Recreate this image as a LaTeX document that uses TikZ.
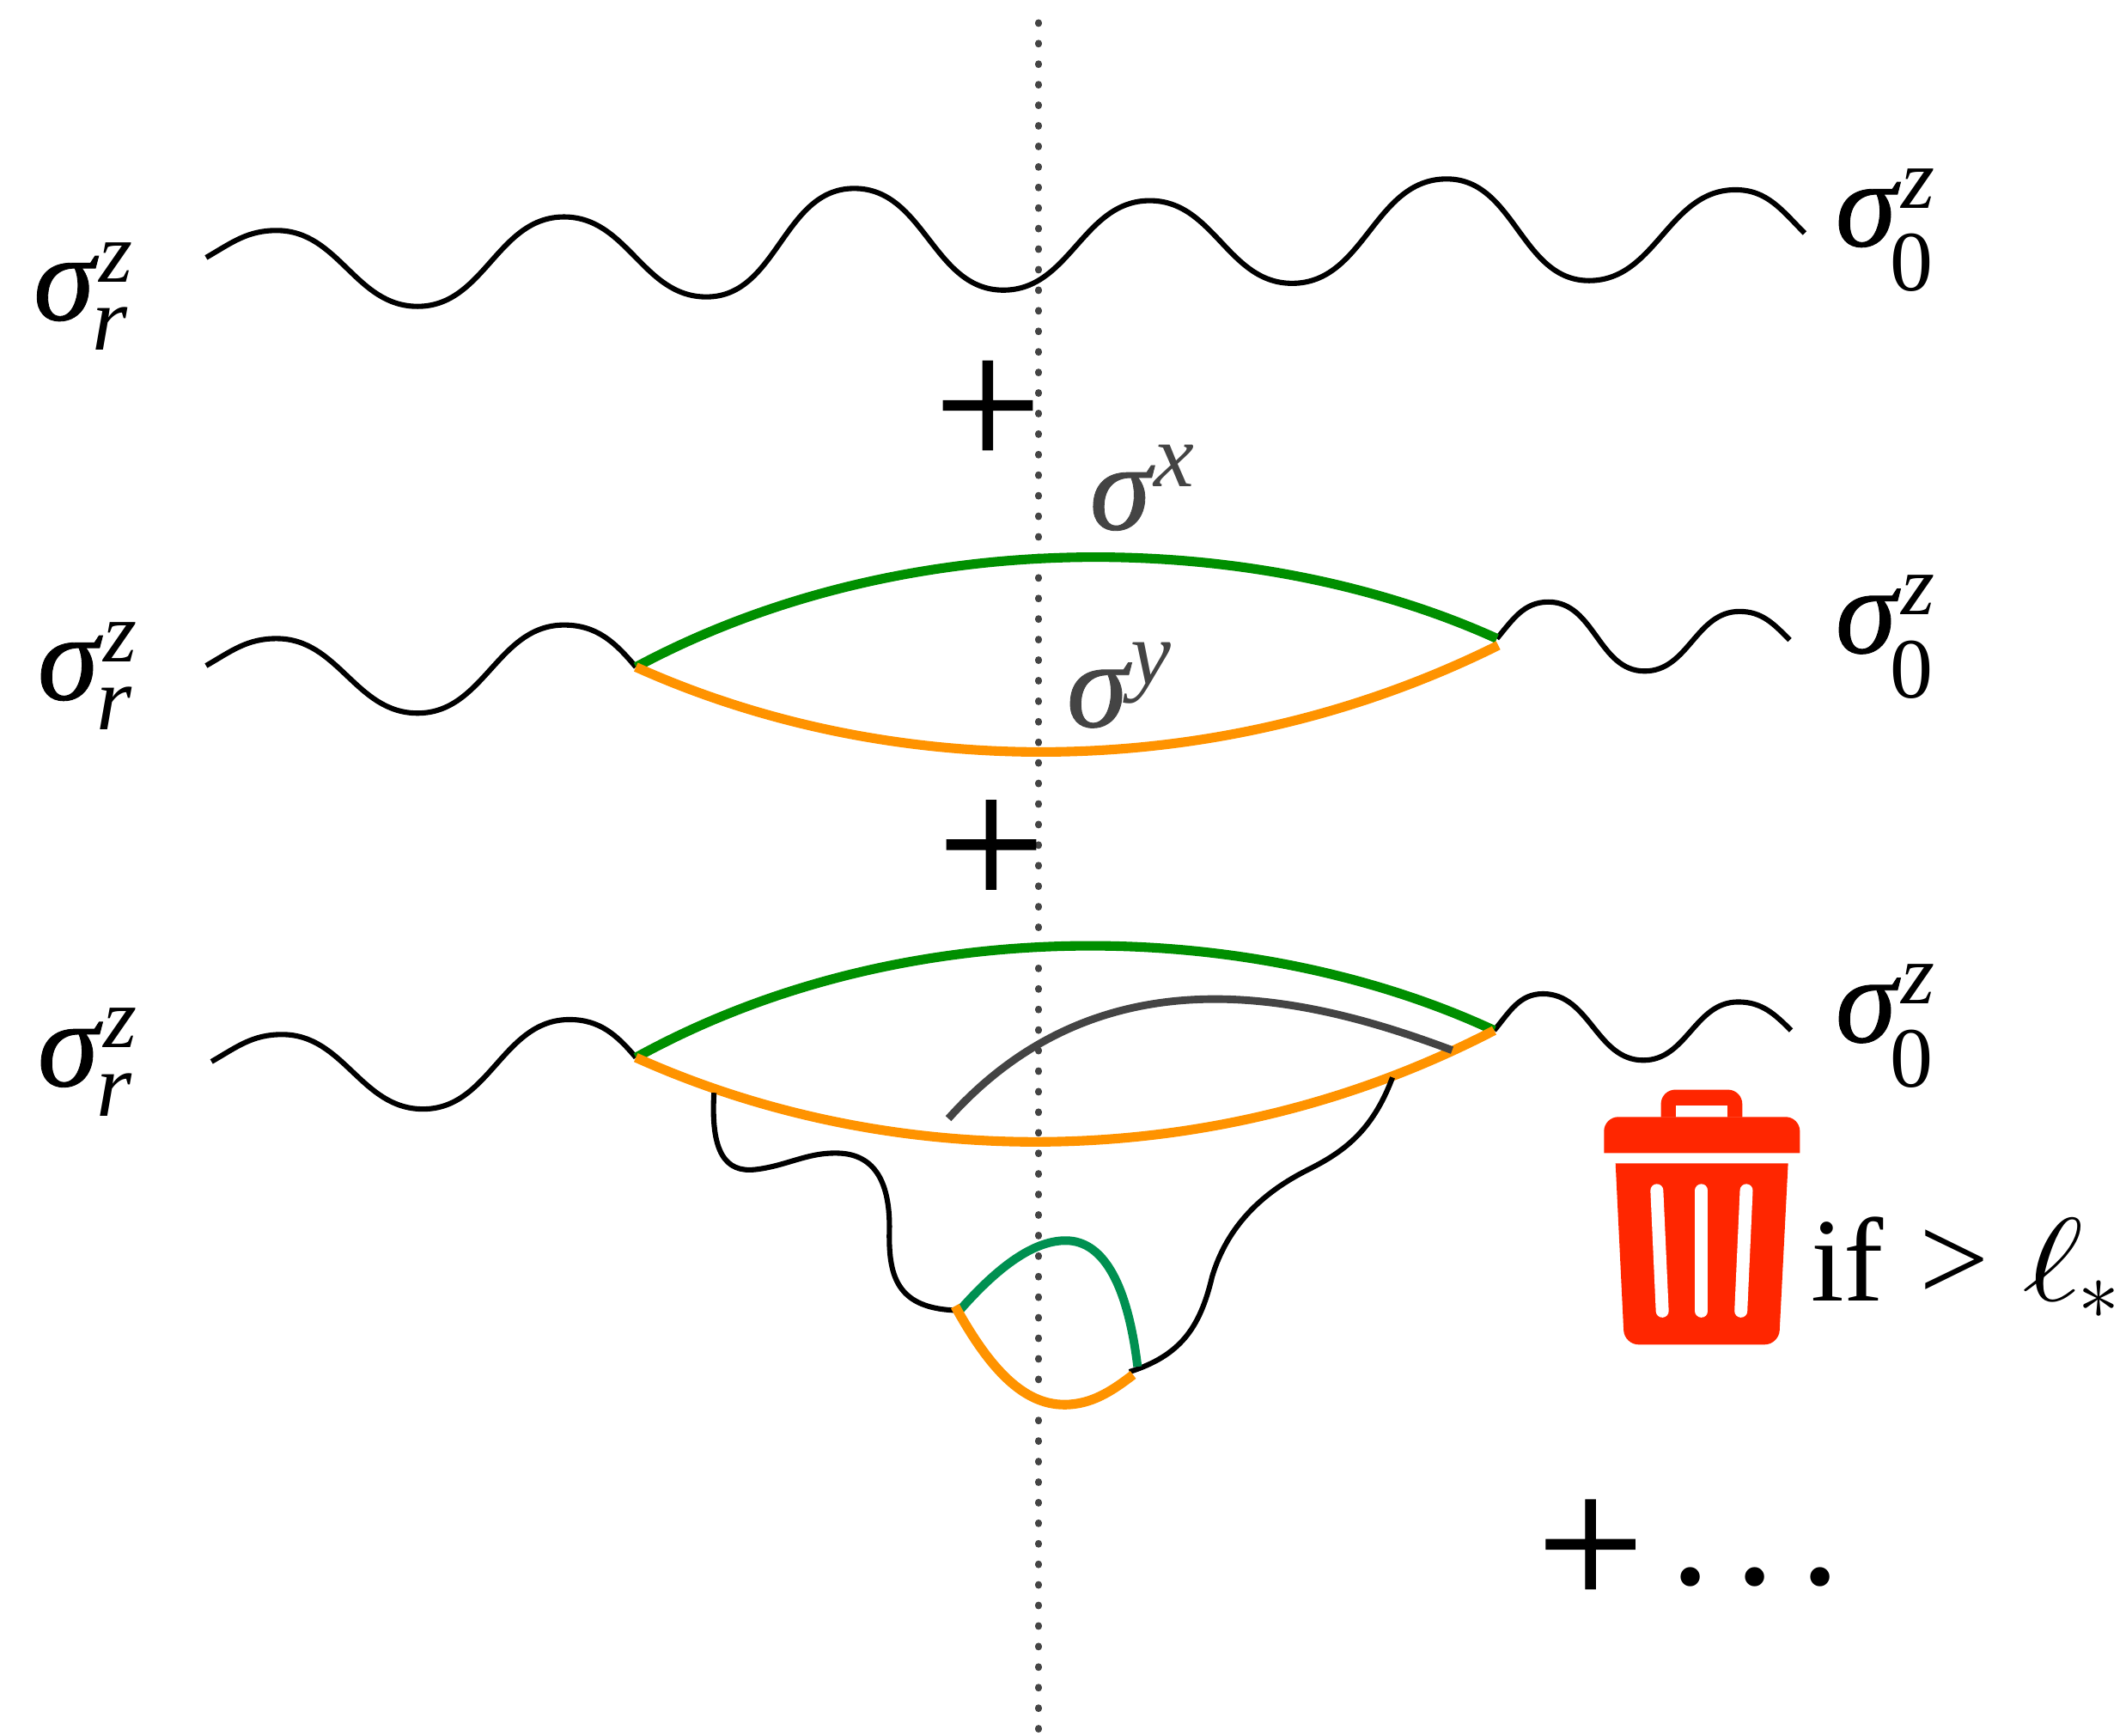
\documentclass[tikz,border=0pt]{standalone}
\usepackage{fontspec}
\setmainfont{Liberation Serif}
\usepackage{amsmath}
\usepackage{xcolor}
\usetikzlibrary{positioning}

\newfontfamily\plusfont[FakeBold=0.6]{Liberation Serif}
\newfontfamily\sigmafont[FakeBold=0.6]{Liberation Serif Italic}

\definecolor{arcgreen}{HTML}{008F00}
\definecolor{arcorange}{HTML}{FF9300}
\definecolor{loopgreen}{HTML}{009051}
\definecolor{cutgrey}{HTML}{444444}
\definecolor{binred}{HTML}{FF2600}

\newcommand{\bigsigma}{{\sigmafont\fontsize{26}{26}\selectfont σ}}
\newcommand{\spinlabel}{\bigsigma\rlap{\raisebox{8pt}{\fontsize{18}{18}\selectfont\kern1pt\itshape z}}\kern-0.5pt\raisebox{-6.3pt}{\fontsize{19}{19}\selectfont\itshape r}}
\newcommand{\spinzero}{\bigsigma\rlap{\raisebox{8pt}{\fontsize{18}{18}\selectfont\kern1pt\itshape z}}\kern-1.4pt\raisebox{-9.4pt}{\fontsize{18}{18}\selectfont 0}}
\newcommand{\greylabel}[1]{\bigsigma\raisebox{9pt}{\fontsize{19}{19}\selectfont\kern0.6pt\itshape #1}}

\tikzset{
  wire/.style = {black, line width=1.1pt},
  ext/.style = {out=0, in=180},
  arc1/.style = {arcgreen, line width=2pt},
  arc2/.style = {arcorange, line width=2pt},
  loop1/.style = {loopgreen, line width=1.8pt},
  cutline/.style = {cutgrey, line width=1.6pt},
  dotline/.style = {cutgrey, line width=1.4pt, line cap=round, dash pattern=on 0.2pt off 4.11pt},
  spin/.style = {inner sep=0pt, anchor=base west},
  bigplus/.style = {inner sep=0pt, font=\plusfont\fontsize{40}{40}\selectfont}
}

\begin{document}
\begin{tikzpicture}[x=0.01cm, y=-0.01cm]
  \useasboundingbox (0,0) rectangle (1568,1280);

  \coordinate (cuttop) at (766,16.7);
  \coordinate (cutbot) at (766,1290);
  \draw[dotline] (cuttop) -- (cutbot);

  % first row
  \node[spin] (r1) at (24,236) {\spinlabel};
  \node[spin] (o1) at (1353,181.5) {\spinzero};
  \coordinate (w1a) at (152,190);
  \coordinate (w1b) at (1331,172);
  \draw[wire] (w1a) to[out=30,in=180] (204,170) to[ext] (308,226) to[ext] (416,160)
    to[ext] (521,219) to[ext] (630,139) to[ext] (740,214) to[ext] (848,148)
    to[ext] (953,209) to[ext] (1067,132) to[ext] (1172,207) to[ext] (1280,140)
    to[out=0,in=135] (w1b);
  \node[bigplus] (plus1) at (728.5,306) {+};

  % second row
  \node[spin] (r2) at (27,516) {\spinlabel};
  \node[spin] (o2) at (1353,481.5) {\spinzero};
  \coordinate (w2a) at (152,491);
  \coordinate (a2) at (469,492);
  \coordinate (b2) at (1104,471);
  \coordinate (b2o) at (1105,476);
  \coordinate (w2b) at (1320,472);
  \draw[wire] (w2a) to[out=30,in=180] (204,471) to[ext] (308,526) to[ext] (416,461)
    to[out=0,in=130] (a2);
  \draw[wire] (b2) to[out=50,in=180] (1142,444) to[ext] (1213,495) to[ext] (1283,451)
    to[out=0,in=135] (w2b);
  \draw[arc1] (a2) .. controls (672,383) and (930,392) .. (b2);
  \draw[arc2] (a2) .. controls (660,578) and (900,578) .. (b2o);
  \node[spin, text=cutgrey] (sx) at (803,390.5) {\greylabel{x}};
  \node[spin, text=cutgrey] (sy) at (786,536) {\greylabel{y}};
  \node[bigplus] (plus2) at (731,630) {+};

  % third row
  \node[spin] (r3) at (27,801) {\spinlabel};
  \node[spin] (o3) at (1353,768.5) {\spinzero};
  \coordinate (w3a) at (156,783);
  \coordinate (a3) at (469,780);
  \coordinate (b3) at (1102,760);
  \coordinate (w3b) at (1321,760);
  \draw[wire] (w3a) to[out=30,in=180] (208,763) to[ext] (312,818) to[ext] (420,752)
    to[out=0,in=130] (a3);
  \draw[wire] (b3) to[out=50,in=180] (1138,733) to[ext] (1212,782) to[ext] (1282,739)
    to[out=0,in=135] (w3b);
  \draw[arc1] (a3) .. controls (672,668) and (928,679) .. (b3);
  \draw[arc2] (a3) .. controls (660,866) and (898,866) .. (b3);
  \coordinate (c1) at (699.5,825);
  \coordinate (c2) at (1071,774.6);
  \draw[cutline] (c1) .. controls (815,696) and (968,736) .. (c2);

  % small loop below the third row
  \coordinate (l1) at (526.6,806);
  \coordinate (l2) at (708,966.5);
  \coordinate (l3) at (833,1011.8);
  \coordinate (l4) at (1027,794.7);
  \draw[wire] (l1) .. controls (524,850) and (535,865) .. (557,862.6)
    .. controls (580,860) and (595,850) .. (617.5,850.5)
    .. controls (650,851) and (656,880) .. (656,905)
    .. controls (655,940) and (660,966) .. (l2);
  \draw[wire] (l4) .. controls (1012,835) and (990,850) .. (965,862.6)
    .. controls (930,880) and (905,905) .. (894,941.5)
    .. controls (885,980) and (870,1000) .. (l3);
  \draw[loop1] (708.5,965.7) .. controls (740,930) and (765,915) .. (786,915)
    .. controls (815,915) and (832,950) .. (839,1008);
  \draw[arc2] (704.4,963.3) .. controls (730,1010) and (755,1036) .. (785,1036)
    .. controls (805,1036) and (820,1026) .. (835.7,1014);

  % bin
  \fill[binred] (1225,824) [rounded corners=3pt] -- (1225,803.7) -- (1285,803.7) [sharp corners] -- (1285,824) -- cycle;
  \fill[white] (1236,815.3) rectangle (1274,824);
  \fill[binred] (1183,850.4) [rounded corners=3pt] -- (1183,823.8) -- (1327.5,823.8) [sharp corners] -- (1327.5,850.4) -- cycle;
  \fill[binred] (1191.5,858) [rounded corners=3pt] -- (1198,991.7) -- (1312,991.7) [sharp corners] -- (1318.8,858) -- cycle;
  \draw[white, line width=2.7pt, line cap=round] (1222,878) -- (1226,967);
  \draw[white, line width=2.7pt, line cap=round] (1255,878) -- (1255,967);
  \draw[white, line width=2.7pt, line cap=round] (1288,878) -- (1284,967);
  \node[inner sep=0pt, anchor=base west, font=\fontsize{25}{25}\selectfont] (ifell) at (1335,959.6) {if\kern7.4pt{\fontsize{26}{26}\selectfont >}\kern7pt\scalebox{1.25}[1]{\fontsize{26}{26}\selectfont$\ell$}\kern-1pt$_*$};

  \node[bigplus] (plus3) at (1173,1146) {+};
  \node[inner sep=0pt, anchor=base west, font=\fontsize{34}{34}\selectfont] (dots) at (1231,1168.5) {.\kern5.1pt.\kern5.1pt.};
\end{tikzpicture}
\end{document}
